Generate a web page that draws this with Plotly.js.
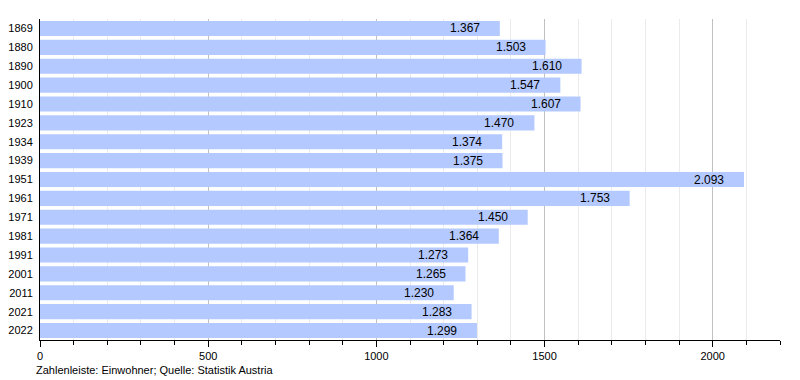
<!DOCTYPE html>
<html>
<head>
<meta charset="utf-8">
<script src="https://cdn.plot.ly/plotly-3.0.1.min.js"></script>
<style>html,body{margin:0;padding:0;background:#fff;}#chart{width:800px;height:380px;}</style>
</head>
<body>
<div id="chart"></div>
<script>
const years = ["1869","1880","1890","1900","1910","1923","1934","1939","1951","1961","1971","1981","1991","2001","2011","2021","2022"];
const population = [1367,1503,1610,1547,1607,1470,1374,1375,2093,1753,1450,1364,1273,1265,1230,1283,1299];
const caption = "Zahlenleiste: Einwohner; Quelle: Statistik Austria";

function fmt(v){ return String(v).replace(/\B(?=(\d{3})+(?!\d))/g, "."); }

const trace = {
  type: "bar",
  orientation: "h",
  y: years,
  x: population,
  marker: {color: "#b3c9ff", line: {width: 0}},
  hoverinfo: "none"
};

// category index positions on the category axis
const labelAnnotations = years.map((yr, i) => ({
  x: population[i], y: i, xref: "x", yref: "y",
  text: fmt(population[i]), showarrow: false,
  xanchor: "right", yanchor: "middle", xshift: -18,
  font: {size: 12, color: "#000"}
}));

const layout = {
  width: 800, height: 380,
  margin: {l: 40, r: 20, t: 19, b: 40},
  paper_bgcolor: "#fff", plot_bgcolor: "#fff",
  bargap: 0.2,
  showlegend: false,
  font: {family: "Liberation Sans, Arial, sans-serif", size: 11, color: "#000"},
  xaxis: {
    range: [0, 2200],
    dtick: 500, tick0: 0,
    showgrid: true, gridcolor: "#c0c0c0", gridwidth: 1,
    zeroline: false,
    showline: true, linecolor: "#000", linewidth: 1,
    ticks: "outside", ticklen: 6, tickcolor: "#000",
    tickfont: {size: 11},
    minor: {dtick: 100, showgrid: true, gridcolor: "#ebebeb", ticks: "outside", ticklen: 4, tickcolor: "#000"},
    fixedrange: true
  },
  yaxis: {
    type: "category",
    categoryorder: "array",
    categoryarray: years,
    range: [years.length - 0.5, -0.5],
    autorange: false,
    showline: true, linecolor: "#000", linewidth: 1,
    ticks: "", showgrid: false, zeroline: false,
    tickfont: {size: 11},
    ticklabelstandoff: 4,
    fixedrange: true
  },
  annotations: labelAnnotations.concat([{
    text: caption, xref: "paper", yref: "paper", x: -0.008, y: -0.068,
    xanchor: "left", yanchor: "top", showarrow: false,
    font: {size: 11, color: "#000"}
  }])
};

Plotly.newPlot("chart", [trace], layout, {displayModeBar: false, staticPlot: true});
</script>
</body>
</html>
